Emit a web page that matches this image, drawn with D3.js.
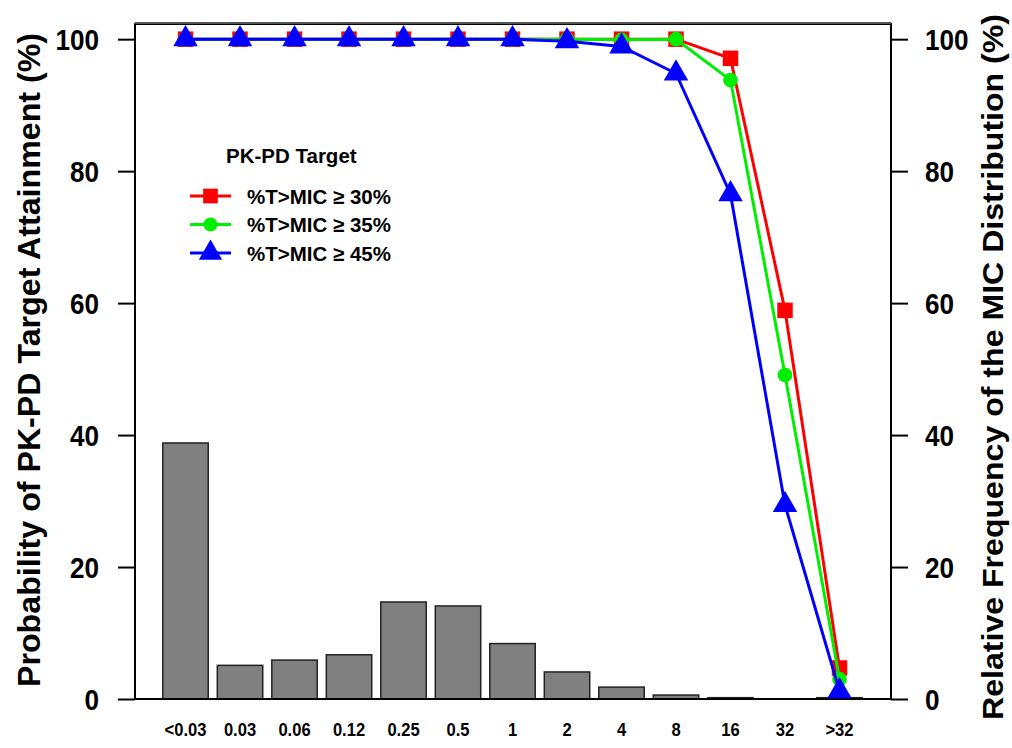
<!DOCTYPE html>
<html><head><meta charset="utf-8">
<script src="https://cdn.jsdelivr.net/npm/d3@7"></script>
<style>body{margin:0;background:#fff}svg text{font-family:"Liberation Sans",Arial,sans-serif;font-weight:bold}</style>
</head><body>
<svg id="c" width="1012" height="748"></svg>
<script>
const categories = ["<0.03","0.03","0.06","0.12","0.25","0.5","1","2","4","8","16","32",">32"];
const micFrequency = [38.8,5.1,5.9,6.7,14.7,14.1,8.4,4.1,1.8,0.6,0.2,0,0.2];
const pta30 = [100,100,100,100,100,100,100,100,100,100,97.1,58.9,4.7];
const pta35 = [100,100,100,100,100,100,100,100,99.9,100,93.8,49.1,3.0];
const pta45 = [100,100,100,100,100,100,100,99.7,98.9,94.8,76.5,29.4,1.2];
const yTicks = [0,20,40,60,80,100];
const seriesNames = ["%T>MIC \u2265 30%","%T>MIC \u2265 35%","%T>MIC \u2265 45%"];
const seriesColors = ["#ff0000","#00ee00","#0000ff"];
const seriesShapes = [d3.symbolSquare, d3.symbolCircle, d3.symbolTriangle];
const seriesSizes = [240, 170, 260];

const svg = d3.select("#c");
const L=135, R=891, T=24, B=699;
const x = d3.scaleLinear().domain([-0.927,12.945]).range([L,R]);
const y = d3.scaleLinear().domain([0,102.3]).range([B,T]);
const step = x(1)-x(0);
const bw = step/1.2;

function condense(sel, f){
  sel.each(function(){
    const w = this.getComputedTextLength();
    d3.select(this).attr("textLength", w*f).attr("lengthAdjust","spacingAndGlyphs");
  });
}

// bars
svg.append("g").selectAll("rect").data(micFrequency).join("rect")
  .attr("x",(d,i)=>x(i)-bw/2).attr("width",bw)
  .attr("y",d=>y(d)).attr("height",d=>B-y(d))
  .attr("fill","#808080").attr("stroke","#222").attr("stroke-width",1.5);

// frame
svg.append("rect").attr("x",L).attr("y",T).attr("width",R-L).attr("height",B-T)
  .attr("fill","none").attr("stroke","#000").attr("stroke-width",2);
svg.append("line").attr("x1",L).attr("x2",R).attr("y1",T-1).attr("y2",T-1)
  .attr("stroke","#555").attr("stroke-width",2);

// left axis
const ya = d3.axisLeft(y).tickValues(yTicks).tickSize(17).tickPadding(19);
const gl = svg.append("g").attr("transform",`translate(${L},0)`).call(ya);
gl.select(".domain").remove();
gl.selectAll("line").attr("stroke-width",2);
gl.selectAll("text").attr("font-size",29).attr("fill","#000").attr("font-family","Liberation Sans").attr("font-weight","bold").attr("dy","0.36em");
condense(gl.selectAll("text"),0.9);
const yr = d3.axisRight(y).tickValues(yTicks).tickSize(17).tickPadding(17);
const gr = svg.append("g").attr("transform",`translate(${R},0)`).call(yr);
gr.select(".domain").remove();
gr.selectAll("line").attr("stroke-width",2);
gr.selectAll("text").attr("font-size",29).attr("fill","#000").attr("font-family","Liberation Sans").attr("font-weight","bold").attr("dy","0.36em");
condense(gr.selectAll("text"),0.9);

// x labels
svg.append("g").selectAll("text").data(categories).join("text")
  .attr("x",(d,i)=>x(i)).attr("y",736).attr("text-anchor","middle")
  .attr("font-size",18).text(d=>d)
  .call(s=>condense(s,0.92));

// axis titles
svg.append("text").attr("transform",`translate(40,360) rotate(-90)`)
  .attr("text-anchor","middle").attr("font-size",31)
  .attr("textLength",654).attr("lengthAdjust","spacingAndGlyphs")
  .text("Probability of PK-PD Target Attainment (%)");
svg.append("text").attr("transform",`translate(1003,367) rotate(-90)`)
  .attr("text-anchor","middle").attr("font-size",29.5)
  .attr("textLength",706).attr("lengthAdjust","spacingAndGlyphs")
  .text("Relative Frequency of the MIC Distribution (%)");

// lines
const series = [pta30, pta35, pta45];
const line = d3.line().x((d,i)=>x(i)).y(d=>y(d));
series.forEach((s,k)=>{
  const g = svg.append("g");
  g.append("path").datum(s).attr("d",line).attr("fill","none")
    .attr("stroke",seriesColors[k]).attr("stroke-width",3);
  g.selectAll("path.m").data(s).join("path").attr("class","m")
    .attr("transform",(d,i)=>`translate(${x(i)},${y(d)})`)
    .attr("d",d3.symbol().type(seriesShapes[k]).size(seriesSizes[k]))
    .attr("fill",seriesColors[k]);
});

// legend
const lg = svg.append("g");
lg.append("text").attr("x",226).attr("y",163).attr("font-size",20.5).text("PK-PD Target");
seriesNames.forEach((n,k)=>{
  const yy = 196 + k*28.5;
  lg.append("line").attr("x1",190).attr("x2",231).attr("y1",yy).attr("y2",yy)
    .attr("stroke",seriesColors[k]).attr("stroke-width",3);
  lg.append("path").attr("transform",`translate(210.5,${yy})`)
    .attr("d",d3.symbol().type(seriesShapes[k]).size(seriesSizes[k]*0.9)).attr("fill",seriesColors[k]);
  lg.append("text").attr("x",247).attr("y",yy+7.5).attr("font-size",20.5).text(n);
});
</script>
</body></html>
